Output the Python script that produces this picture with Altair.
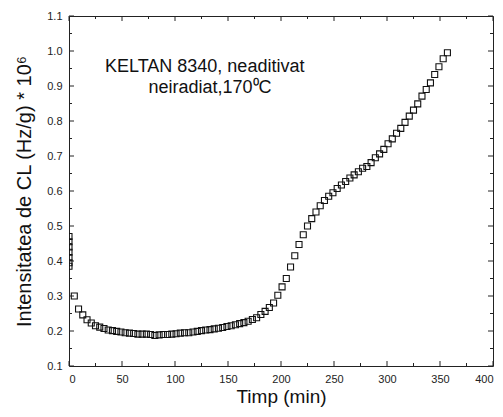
import altair as alt
import pandas as pd

# --- data ---
x_start = [0, 0, 0, 0, 0, 0, 0]
y_start = [0.470, 0.455, 0.440, 0.425, 0.410, 0.395, 0.385]

x_main = list(range(5, 358, 4))
y_main = [
    0.300, 0.263, 0.246, 0.232, 0.223, 0.215, 0.211, 0.207, 0.203, 0.201,
    0.199, 0.197, 0.195, 0.194, 0.193, 0.191, 0.191, 0.191, 0.190, 0.187,
    0.189, 0.190, 0.190, 0.191, 0.192, 0.194, 0.195, 0.195, 0.197, 0.199,
    0.201, 0.203, 0.204, 0.206, 0.208, 0.210, 0.213, 0.215, 0.218, 0.221,
    0.224, 0.228, 0.233, 0.238, 0.247, 0.256, 0.267, 0.280, 0.302, 0.326,
    0.350, 0.383, 0.415, 0.447, 0.475, 0.500, 0.521, 0.540, 0.558, 0.573,
    0.585, 0.595, 0.607, 0.617, 0.627, 0.637, 0.646, 0.655, 0.665, 0.670,
    0.681, 0.695, 0.706, 0.719, 0.735, 0.749, 0.765, 0.779, 0.796, 0.814,
    0.831, 0.849, 0.871, 0.890, 0.909, 0.933, 0.955, 0.978, 0.995,
]

x_major = [0, 50, 100, 150, 200, 250, 300, 350, 400]
x_minor = [25, 75, 125, 175, 225, 275, 325, 375]
y_major = [0.1, 0.2, 0.3, 0.4, 0.5, 0.6, 0.7, 0.8, 0.9, 1.0, 1.1]
y_minor = [0.15, 0.25, 0.35, 0.45, 0.55, 0.65, 0.75, 0.85, 0.95, 1.05]

ann_lines = ["KELTAN 8340, neaditivat", "neiradiat,170\u2070C"]
ann_x = [128, 133]
ann_y = [0.94, 0.88]

x_title = "Timp (min)"
y_title = "Intensitatea de CL (Hz/g) * 10\u2076"

W, H = 424, 350
FONT = "Liberation Sans"
xs = alt.Scale(domain=[0, 400], nice=False, zero=False)
ys = alt.Scale(domain=[0.1, 1.1], nice=False, zero=False)

x_axis = alt.Axis(values=x_major, ticks=False, domain=False, grid=False,
                  labelFontSize=11, labelColor="#222", labelFont=FONT,
                  labelPadding=7, labelOverlap=False, titleFont=FONT,
                  titleFontSize=19, titleFontWeight="normal",
                  titleColor="#111", titlePadding=3)
y_axis = alt.Axis(values=y_major, format=".1f", ticks=False, domain=False,
                  grid=False, labelFontSize=11, labelColor="#222",
                  labelFont=FONT, labelPadding=7, labelOverlap=False,
                  titleFont=FONT, titleFontSize=20, titleFontWeight="normal",
                  titleColor="#111", titlePadding=12)


def X(field):
    return alt.X(field, scale=xs, axis=x_axis, title=x_title)


def Y(field):
    return alt.Y(field, scale=ys, axis=y_axis, title=y_title)


pts = pd.DataFrame({"t": x_start + x_main, "v": y_start + y_main})

points = alt.Chart(pts).mark_point(
    shape="square", filled=False, stroke="#111", strokeWidth=1.1, size=36,
    opacity=1, clip=True
).encode(x=X("t:Q"), y=Y("v:Q"))

xmaj = pd.DataFrame({"t": x_major})
xmin = pd.DataFrame({"t": x_minor})
ymaj = pd.DataFrame({"v": y_major})
ymin = pd.DataFrame({"v": y_minor})

tick_color = "#222"


def xticks(df, length):
    bottom = alt.Chart(df).mark_rule(color=tick_color, strokeWidth=1).encode(
        x=X("t:Q"), y=alt.value(H), y2=alt.value(H - length))
    top = alt.Chart(df).mark_rule(color=tick_color, strokeWidth=1).encode(
        x=X("t:Q"), y=alt.value(0), y2=alt.value(length))
    return [bottom, top]


def yticks(df, length):
    left = alt.Chart(df).mark_rule(color=tick_color, strokeWidth=1).encode(
        y=Y("v:Q"), x=alt.value(0), x2=alt.value(length))
    right = alt.Chart(df).mark_rule(color=tick_color, strokeWidth=1).encode(
        y=Y("v:Q"), x=alt.value(W), x2=alt.value(W - length))
    return [left, right]


ann = pd.DataFrame({"t": ann_x, "v": ann_y, "txt": ann_lines})
annotation = alt.Chart(ann).mark_text(
    font=FONT, fontSize=18, color="#111", align="center", baseline="alphabetic"
).encode(x=X("t:Q"), y=Y("v:Q"), text="txt:N")

layers = [points] + xticks(xmaj, 5) + xticks(xmin, 3) + yticks(ymaj, 5) + yticks(ymin, 3) + [annotation]

chart = alt.layer(*layers).properties(
    width=W, height=H,
    autosize=alt.AutoSizeParams(type="none"),
    padding={"left": 69, "top": 16, "right": 10, "bottom": 51},
    background="white",
).configure_view(stroke="#222", strokeWidth=1).configure_axis(
    titleFontWeight="normal"
)

chart.save("out.html", embed_options={"renderer": "svg", "actions": False})
